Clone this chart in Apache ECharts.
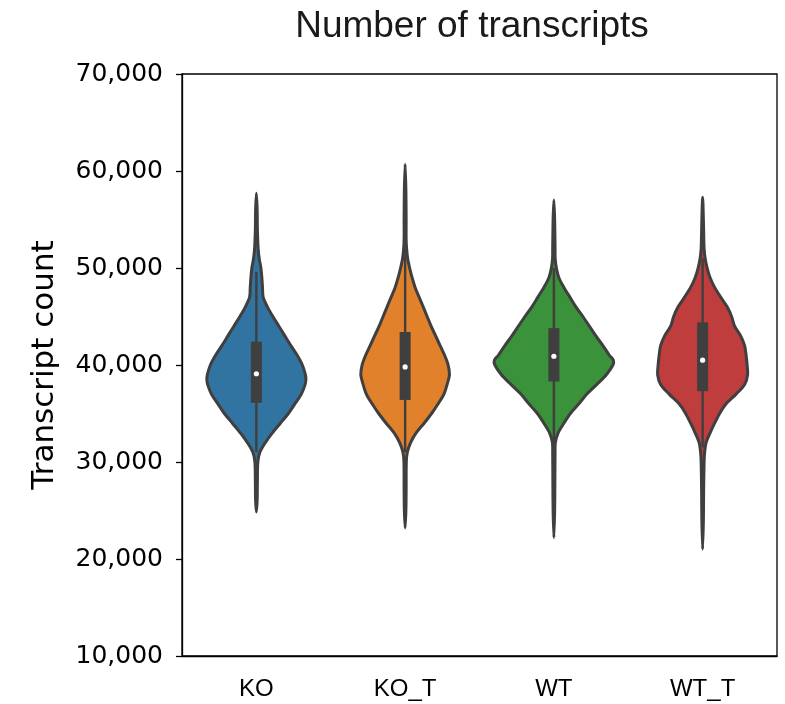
<!DOCTYPE html>
<html>
<head>
<meta charset="utf-8">
<script src="https://cdn.jsdelivr.net/npm/echarts@6/dist/echarts.min.js"></script>
<style>
html,body{margin:0;padding:0;background:#fff;}
#chart{width:785px;height:704px;}
</style>
</head>
<body>
<div id="chart"></div>
<script>
// ---- data ----
const categories = ['KO', 'KO_T', 'WT', 'WT_T'];
const yTicks = [10000, 20000, 30000, 40000, 50000, 60000, 70000];

// kernel density profiles: [transcript count, relative density]
const koDensity = [[24850,0],[26000,0.013],[28000,0.017],[30000,0.025],[31000,0.059],[32000,0.151],[33000,0.269],[34000,0.403],[35000,0.538],[36000,0.647],[37000,0.756],[38000,0.820],[38500,0.832],[39000,0.824],[40000,0.773],[41000,0.686],[42000,0.580],[43000,0.479],[44000,0.378],[45000,0.277],[46000,0.185],[47000,0.114],[48000,0.103],[49000,0.092],[50000,0.076],[51000,0.047],[52000,0.030],[54000,0.017],[56000,0.013],[57700,0]];
const koTDensity = [[23200,0],[25000,0.013],[27000,0.017],[30000,0.020],[31000,0.037],[32000,0.092],[33000,0.185],[34000,0.319],[35000,0.445],[36000,0.555],[37000,0.652],[38000,0.706],[39000,0.745],[40000,0.723],[41000,0.664],[42000,0.588],[43000,0.513],[44000,0.437],[45000,0.370],[46000,0.303],[47000,0.235],[48000,0.168],[49000,0.118],[50000,0.076],[51000,0.042],[52000,0.025],[53000,0.017],[55000,0.017],[58000,0.013],[60700,0]];
const wtDensity = [[22200,0],[25000,0.013],[28000,0.017],[31000,0.020],[32000,0.025],[33000,0.072],[34000,0.168],[35000,0.277],[36000,0.420],[37000,0.555],[38000,0.723],[39000,0.882],[40000,0.992],[40500,1.0],[41000,0.933],[42000,0.824],[43000,0.706],[44000,0.597],[45000,0.487],[46000,0.370],[47000,0.269],[48000,0.168],[49000,0.084],[50000,0.042],[51000,0.022],[52000,0.020],[55000,0.013],[57000,0]];
const wtTDensity = [[21000,0],[24000,0.013],[27000,0.017],[30000,0.025],[31000,0.034],[32000,0.059],[33000,0.126],[34000,0.202],[35000,0.286],[36000,0.395],[37000,0.563],[38000,0.706],[39000,0.756],[40000,0.748],[41000,0.731],[42000,0.706],[43000,0.639],[44000,0.538],[45000,0.487],[46000,0.412],[47000,0.303],[48000,0.202],[49000,0.126],[50000,0.076],[51000,0.042],[52000,0.025],[53000,0.020],[55000,0.013],[57300,0]];

// box statistics
const q1 = [36100, 36400, 38300, 37300];
const medians = [39100, 39800, 40900, 40500];
const q3 = [42400, 43400, 43800, 44400];
const whiskerLow = [31000, 31000, 32000, 31500];
const whiskerHigh = [49600, 52000, 50000, 51000];

const profiles = [koDensity, koTDensity, wtDensity, wtTDensity];
const colors = ['#3274a1', '#e1812c', '#3a923a', '#c03d3e'];
const edgeColor = '#3f3f3f';

function fmt(v) { return String(v).replace(/\B(?=(\d{3})+(?!\d))/g, ','); }

const chart = echarts.init(document.getElementById('chart'), null, {renderer: 'canvas'});

function renderViolin(params, api) {
  const i = params.dataIndex;
  const prof = profiles[i];
  const cx = api.coord([i, 0])[0];
  const band = api.size([1, 0])[0];
  const maxHalf = band * 0.4;
  const right = prof.map(p => [cx + p[1] * maxHalf, api.coord([i, p[0]])[1]]);
  const left = prof.slice(1, -1).map(p => [cx - p[1] * maxHalf, api.coord([i, p[0]])[1]]).reverse();
  const pts = right.concat(left);
  const yq1 = api.coord([i, q1[i]])[1];
  const yq3 = api.coord([i, q3[i]])[1];
  const ym = api.coord([i, medians[i]])[1];
  const ywl = api.coord([i, whiskerLow[i]])[1];
  const ywh = api.coord([i, whiskerHigh[i]])[1];
  return {
    type: 'group',
    children: [
      { type: 'polygon', shape: { points: pts, smooth: 0.3 },
        style: { fill: colors[i], stroke: edgeColor, lineWidth: 3, lineJoin: 'round' } },
      { type: 'line', shape: { x1: cx, y1: ywl, x2: cx, y2: ywh },
        style: { stroke: edgeColor, lineWidth: 2.4 } },
      { type: 'rect', shape: { x: cx - 5.5, y: yq3, width: 11, height: yq1 - yq3 },
        style: { fill: edgeColor } },
      { type: 'circle', shape: { cx: cx, cy: ym, r: 2.6 },
        style: { fill: '#ffffff' } }
    ]
  };
}

chart.setOption({
  animation: false,
  backgroundColor: '#ffffff',
  title: {
    text: 'Number of transcripts',
    left: 467, top: 3, textAlign: 'center',
    textStyle: { fontFamily: 'Liberation Sans, Arial, sans-serif', fontSize: 37, fontWeight: 'normal', color: '#1a1a1a' }
  },
  grid: { left: 182, right: 8, top: 74, bottom: 48, show: true, borderColor: '#000', borderWidth: 1.3, backgroundColor: 'transparent' },
  xAxis: {
    type: 'category', data: categories,
    axisLine: { lineStyle: { color: '#000', width: 1.3 } },
    axisTick: { alignWithLabel: true, length: 6, lineStyle: { color: '#000', width: 1.3 } },
    axisLabel: { fontFamily: 'Liberation Sans, Arial, sans-serif', fontSize: 24, color: '#000', margin: 21 },
    splitLine: { show: false }
  },
  yAxis: {
    type: 'value', min: yTicks[0], max: yTicks[yTicks.length - 1], interval: 10000,
    name: 'Transcript count', nameLocation: 'middle', nameGap: 122, nameRotate: 90,
    nameTextStyle: { fontFamily: 'DejaVu Sans', fontSize: 31, color: '#000' },
    axisLine: { show: true, lineStyle: { color: '#000', width: 1.3 } },
    axisTick: { show: true, length: 6, lineStyle: { color: '#000', width: 1.3 } },
    axisLabel: { fontFamily: 'DejaVu Sans', fontSize: 25, color: '#000', margin: 19, formatter: v => fmt(v) },
    splitLine: { show: false }
  },
  series: [{
    type: 'custom',
    renderItem: renderViolin,
    data: categories.map((c, i) => [i, medians[i]]),
    encode: { x: 0, y: 1 },
    z: 3
  }]
});
</script>
</body>
</html>
